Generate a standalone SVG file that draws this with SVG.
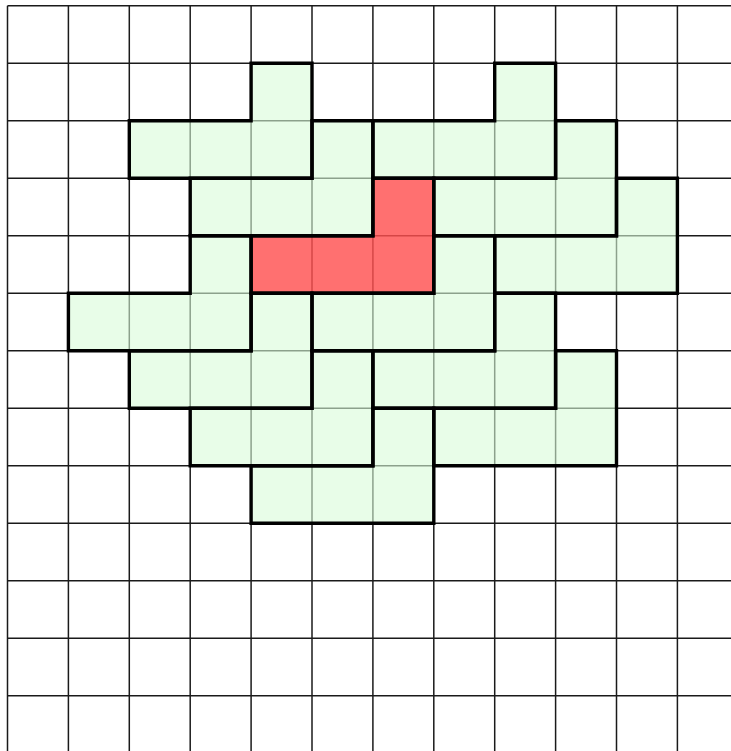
<svg xmlns="http://www.w3.org/2000/svg" xmlns:xlink="http://www.w3.org/1999/xlink" width="731" height="751" viewBox="0 0 731 751">
  <style>
    .grid line { stroke: #1a1a1a; stroke-width: 1.5; }
    .green { fill: #d9fbd9; fill-opacity: 0.6; stroke: none; }
    .red { fill: #ff5050; fill-opacity: 0.82; stroke: none; }
    .outline { fill: none; stroke: #000; stroke-width: 3.4; stroke-linejoin: miter; }
  </style>
  <defs>
    <path id="L" d="M0,57.5 H121.8 V0 H182.7 V115 H0 Z"/>
  </defs>
  <rect width="731" height="751" fill="#fff"/>
  <g id="grid" class="grid">
    <line x1="7.5" y1="5.7" x2="7.5" y2="751"/>
    <line x1="68.4" y1="5.7" x2="68.4" y2="751"/>
    <line x1="129.3" y1="5.7" x2="129.3" y2="751"/>
    <line x1="190.2" y1="5.7" x2="190.2" y2="751"/>
    <line x1="251.1" y1="5.7" x2="251.1" y2="751"/>
    <line x1="312" y1="5.7" x2="312" y2="751"/>
    <line x1="372.9" y1="5.7" x2="372.9" y2="751"/>
    <line x1="433.8" y1="5.7" x2="433.8" y2="751"/>
    <line x1="494.7" y1="5.7" x2="494.7" y2="751"/>
    <line x1="555.6" y1="5.7" x2="555.6" y2="751"/>
    <line x1="616.5" y1="5.7" x2="616.5" y2="751"/>
    <line x1="677.4" y1="5.7" x2="677.4" y2="751"/>
    <line x1="7.5" y1="5.7" x2="731" y2="5.7"/>
    <line x1="7.5" y1="63.2" x2="731" y2="63.2"/>
    <line x1="7.5" y1="120.7" x2="731" y2="120.7"/>
    <line x1="7.5" y1="178.2" x2="731" y2="178.2"/>
    <line x1="7.5" y1="235.7" x2="731" y2="235.7"/>
    <line x1="7.5" y1="293.2" x2="731" y2="293.2"/>
    <line x1="7.5" y1="350.7" x2="731" y2="350.7"/>
    <line x1="7.5" y1="408.2" x2="731" y2="408.2"/>
    <line x1="7.5" y1="465.7" x2="731" y2="465.7"/>
    <line x1="7.5" y1="523.2" x2="731" y2="523.2"/>
    <line x1="7.5" y1="580.7" x2="731" y2="580.7"/>
    <line x1="7.5" y1="638.2" x2="731" y2="638.2"/>
    <line x1="7.5" y1="695.7" x2="731" y2="695.7"/>
  </g>
  <g id="fills">
    <use id="piece-red" xlink:href="#L" href="#L" class="red" x="251.1" y="178.2"/>
    <use id="piece-a" xlink:href="#L" href="#L" class="green" x="129.3" y="63.2"/>
    <use id="piece-b" xlink:href="#L" href="#L" class="green" x="372.9" y="63.2"/>
    <use id="piece-c" xlink:href="#L" href="#L" class="green" x="190.2" y="120.7"/>
    <use id="piece-d" xlink:href="#L" href="#L" class="green" x="433.8" y="120.7"/>
    <use id="piece-e" xlink:href="#L" href="#L" class="green" x="494.7" y="178.2"/>
    <use id="piece-f" xlink:href="#L" href="#L" class="green" x="312" y="235.7"/>
    <use id="piece-g" xlink:href="#L" href="#L" class="green" x="68.4" y="235.7"/>
    <use id="piece-h" xlink:href="#L" href="#L" class="green" x="129.3" y="293.2"/>
    <use id="piece-i" xlink:href="#L" href="#L" class="green" x="372.9" y="293.2"/>
    <use id="piece-j" xlink:href="#L" href="#L" class="green" x="190.2" y="350.7"/>
    <use id="piece-k" xlink:href="#L" href="#L" class="green" x="433.8" y="350.7"/>
    <use id="piece-l" xlink:href="#L" href="#L" class="green" x="251.1" y="408.2"/>
  </g>
  <g id="outlines" class="outline">
    <use xlink:href="#L" href="#L" x="251.1" y="178.2"/>
    <use xlink:href="#L" href="#L" x="129.3" y="63.2"/>
    <use xlink:href="#L" href="#L" x="372.9" y="63.2"/>
    <use xlink:href="#L" href="#L" x="190.2" y="120.7"/>
    <use xlink:href="#L" href="#L" x="433.8" y="120.7"/>
    <use xlink:href="#L" href="#L" x="494.7" y="178.2"/>
    <use xlink:href="#L" href="#L" x="312" y="235.7"/>
    <use xlink:href="#L" href="#L" x="68.4" y="235.7"/>
    <use xlink:href="#L" href="#L" x="129.3" y="293.2"/>
    <use xlink:href="#L" href="#L" x="372.9" y="293.2"/>
    <use xlink:href="#L" href="#L" x="190.2" y="350.7"/>
    <use xlink:href="#L" href="#L" x="433.8" y="350.7"/>
    <use xlink:href="#L" href="#L" x="251.1" y="408.2"/>
  </g>
</svg>
